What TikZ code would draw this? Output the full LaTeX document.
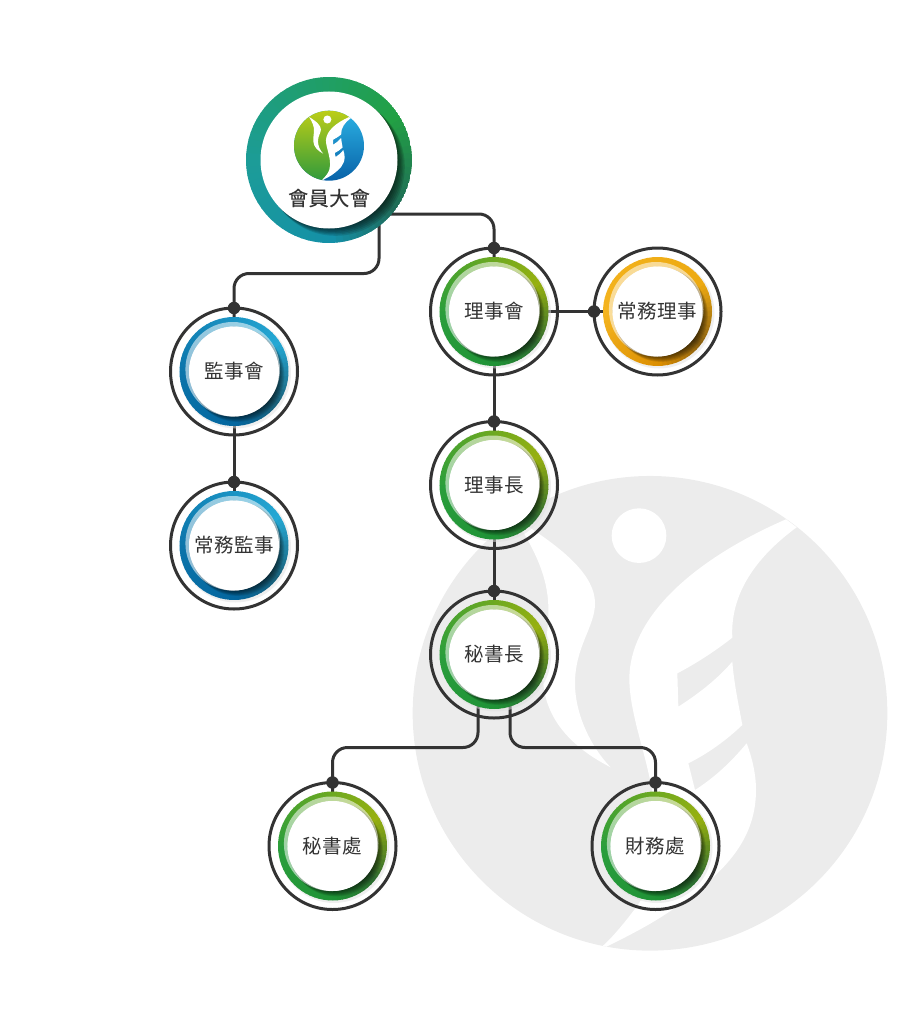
\documentclass[tikz,border=0pt]{standalone}
\usepackage{fontspec}
\usetikzlibrary{backgrounds}
\newfontfamily\cjk[LetterSpace=3]{Noto Sans CJK TC}
\newfontfamily\cjkmain[LetterSpace=3,FakeBold=.25]{Noto Sans CJK TC}

\definecolor{linecol}{HTML}{333333}
\definecolor{markgrey}{HTML}{ECECEC}
% ring colours: A upper right, B left, C bottom, D lower right
\definecolor{greenA}{HTML}{97B010}
\definecolor{greenB}{HTML}{2A9E3C}
\definecolor{greenC}{HTML}{1F9236}
\definecolor{greenD}{HTML}{2F6A30}
\definecolor{blueA}{HTML}{25A8D4}
\definecolor{blueB}{HTML}{0B74AA}
\definecolor{blueC}{HTML}{04669E}
\definecolor{blueD}{HTML}{1A6078}
\definecolor{orangeA}{HTML}{EDAA12}
\definecolor{orangeB}{HTML}{F4B420}
\definecolor{orangeC}{HTML}{DB8E00}
\definecolor{orangeD}{HTML}{8A6010}
\definecolor{mainA}{HTML}{22A044}
\definecolor{mainB}{HTML}{1C9C98}
\definecolor{mainC}{HTML}{1490A8}
\definecolor{mainD}{HTML}{1F6A58}
\definecolor{logoGtop}{HTML}{BCCD18}
\definecolor{logoGbot}{HTML}{2F9A3C}
\definecolor{logoBtop}{HTML}{2CB2E4}
\definecolor{logoBbot}{HTML}{0862A8}

% logo outlines, in one frame for both sizes
\newcommand{\wingpath}{(345,145) .. controls (500,240) and (585,320) .. (585,400)
  .. controls (585,470) and (525,530) .. (525,640) .. controls (525,740) and (580,840) .. (632,892)
  .. controls (530,840) and (440,760) .. (430,640) .. controls (425,560) and (445,500) .. (445,430)
  .. controls (448,330) and (410,250) .. (345,145) -- cycle}
\newcommand{\bodypath}{(1158,148) .. controls (900,260) and (690,430) .. (688,625)
  .. controls (688,720) and (730,830) .. (750,930) .. controls (775,1050) and (800,1180) .. (710,1310)
  .. controls (680,1350) and (640,1400) .. (608,1428) -- (620,1430)
  .. controls (690,1395) and (760,1360) .. (830,1310) .. controls (960,1215) and (1068,1120) .. (1068,960)
  .. controls (1068,910) and (1055,860) .. (1040,820) .. controls (990,880) and (940,925) .. (885,960)
  -- (865,880) .. controls (925,850) and (980,810) .. (1027,765) .. controls (1015,700) and (1002,640) .. (997,575)
  .. controls (950,630) and (890,675) .. (835,710) -- (832,610) .. controls (890,580) and (950,540) .. (997,503)
  .. controls (990,370) and (1070,260) .. (1190,172) -- cycle}
\newcommand{\greenpath}{(1174,160) -- (950,280) -- (760,560) -- (770,800) -- (850,1100) -- (780,1310)
  -- (614,1429) -- (0,1500) -- (0,0) -- (1174,0) -- cycle}

\newcommand{\segmix}[4]{\pgfmathsetmacro\segp{(\segt-#3)/#4*100}\colorlet{segcol}{#2!\segp!#1}}
% colour set, inner radius, outer radius
\newcommand{\ringsegs}[3]{%
  \pgfmathsetmacro\ringr{(#2+#3)/2}\pgfmathsetmacro\ringw{#3-#2}%
  \foreach \a in {0,5,...,355}{%
    \pgfmathsetmacro\segt{mod(\a+330,360)}%
    \ifdim\segt pt<150pt \segmix{#1A}{#1B}{0}{150}%
    \else\ifdim\segt pt<240pt \segmix{#1B}{#1C}{150}{90}%
    \else\ifdim\segt pt<290pt \segmix{#1C}{#1D}{240}{50}%
    \else \segmix{#1D}{#1A}{290}{70}\fi\fi\fi
    \draw[line width=\ringw pt,color=segcol] (\a:\ringr) arc[start angle=\a,end angle=\a+6,radius=\ringr];
  }%
}

\tikzset{
  orgtext/.style={text=linecol,inner sep=0,font=\cjk\fontsize{19.5}{22}\selectfont},
  orgnode/.style 2 args={circle,draw=linecol,line width=3,minimum size=127,inner sep=0,outer sep=0,
    label={[orgtext]center:#2},
    path picture={
      \begin{scope}[shift={(path picture bounding box.center)},y=1pt]
        \fill[black!12,opacity=.5] (1.5,-1.5) circle (55.5);
        \ringsegs{#1}{45}{54.5}
        \foreach \k in {1,...,6}{\fill[black,opacity=.11] (\k*.6,-\k*.6) circle (45+\k*.3);}
        \fill[white,opacity=.55] (-1.3,2.2) circle (47.3);
        \fill[white] (0,0) circle (45);
      \end{scope}
    }},
  mainnode/.style={circle,minimum size=166,inner sep=0,outer sep=0,
    path picture={
      \begin{scope}[shift={(path picture bounding box.center)},y=1pt]
        \ringsegs{main}{68}{83}
        \foreach \k in {1,...,6}{\fill[black,opacity=.13] (\k*1.1,-\k*1.1) circle (68+\k*.2);}
        \fill[white] (0,0) circle (68.5);
      \end{scope}
    }},
  maintext/.style={text=linecol,inner sep=0,font=\cjkmain\fontsize{20}{22}\selectfont},
  jointdot/.style={circle,fill=linecol,minimum size=12.5,inner sep=0},
  conn/.style={draw=linecol,line width=3,rounded corners=15},
  logoframe/.style n args={2}{shift={(#1)},scale=#2,shift={(-750,-730)}}
}

\begin{document}
\begin{tikzpicture}[x=1pt,y=-1pt]
  \useasboundingbox (0,0) rectangle (912,1011);

  % Nodes
  \node[mainnode] (huiyuan) at (329,160) {};
  \node[maintext] (huiyuantext) at (329,198) {會員大會};
  \node[orgnode={green}{理事會}] (lishihui) at (494,311.5) {};
  \node[orgnode={orange}{常務理事}] (changli) at (657.5,311.5) {};
  \node[orgnode={green}{理事長}] (lishizhang) at (494,485) {};
  \node[orgnode={green}{秘書長}] (mishuzhang) at (494,654.5) {};
  \node[orgnode={blue}{監事會}] (jianshi) at (234,371.5) {};
  \node[orgnode={blue}{常務監事}] (changjian) at (234,545.5) {};
  \node[orgnode={green}{秘書處}] (mishuchu) at (332.5,846) {};
  \node[orgnode={green}{財務處}] (caiwu) at (655.5,846) {};

  % free ends of the connectors
  \coordinate (huiyuanR) at (370,214);
  \coordinate (huiyuanB) at (379,215);
  \coordinate (jianshiM) at (300,273.5);
  \coordinate (mishuL) at (478,690);
  \coordinate (mishuR) at (510,690);
  \coordinate (mishuLM) at (400,747.5);
  \coordinate (mishuRM) at (580,747.5);

  \begin{scope}[on background layer]
    % watermark
    \begin{scope}[logoframe={650,713.3}{.33333}]
      \fill[markgrey] (750,730) circle (712);
      \fill[white] (717,197) circle (82);
      \fill[white] \wingpath;
      \fill[white] \bodypath;
    \end{scope}
    % connectors
    \draw[conn] (huiyuanR) -| (lishihui.center);
    \draw[conn] (huiyuanB) |- (jianshiM) -| (jianshi.center);
    \draw[conn] (lishihui.center) -- (changli.center);
    \draw[conn] (lishihui.center) -- (lishizhang.center);
    \draw[conn] (lishizhang.center) -- (mishuzhang.center);
    \draw[conn] (jianshi.center) -- (changjian.center);
    \draw[conn] (mishuL) |- (mishuLM) -| (mishuchu.center);
    \draw[conn] (mishuR) |- (mishuRM) -| (caiwu.center);
  \end{scope}

  % logo
  \begin{scope}[logoframe={329,145.7}{.04916}]
    \shade[top color=logoBtop,bottom color=logoBbot] (750,730) circle (712);
    \begin{scope}
      \clip \greenpath;
      \shade[top color=logoGtop,bottom color=logoGbot] (750,730) circle (712);
    \end{scope}
    \fill[white] (717,197) circle (82);
    \fill[white] \wingpath;
    \fill[white] \bodypath;
  \end{scope}

  % joints
  \node[jointdot] (d1) at (lishihui.north) {};
  \node[jointdot] (d2) at (changli.west) {};
  \node[jointdot] (d3) at (lishizhang.north) {};
  \node[jointdot] (d4) at (mishuzhang.north) {};
  \node[jointdot] (d5) at (jianshi.north) {};
  \node[jointdot] (d6) at (changjian.north) {};
  \node[jointdot] (d7) at (mishuchu.north) {};
  \node[jointdot] (d8) at (caiwu.north) {};
\end{tikzpicture}
\end{document}
